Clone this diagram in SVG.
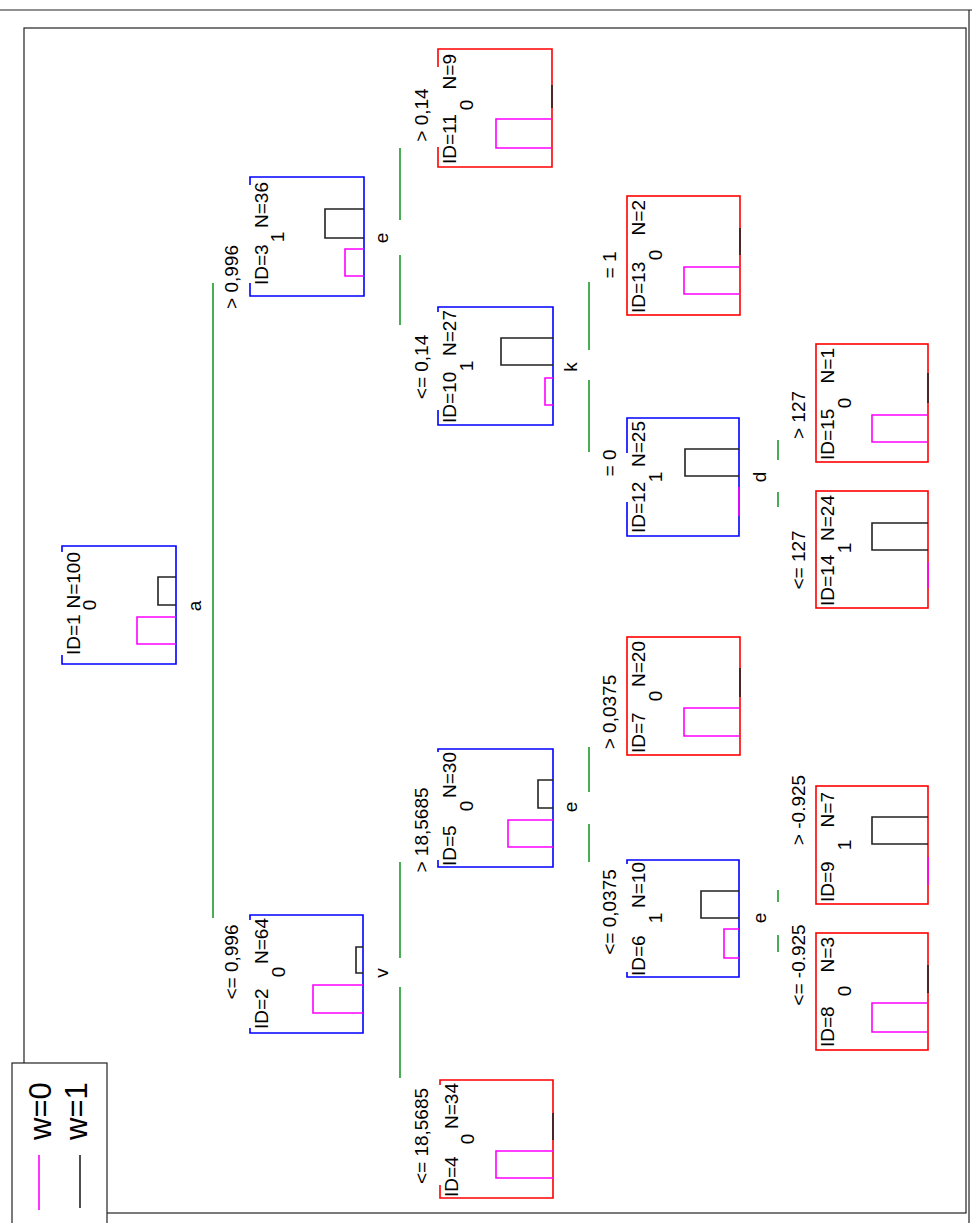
<svg xmlns="http://www.w3.org/2000/svg" width="972" height="1223" viewBox="0 0 972 1223">
<style>
.t{font-family:"Liberation Sans",Arial,sans-serif;font-size:19px;fill:#000}
.lg{font-family:"Liberation Sans",Arial,sans-serif;font-size:31px;fill:#000}
.bi{fill:none;stroke:#0000ff;stroke-width:1.6}
.bl{fill:none;stroke:#ff0000;stroke-width:1.6}
.m{fill:none;stroke:#ff00ff;stroke-width:1.6}
.k{fill:none;stroke:#222;stroke-width:1.6}
.e{fill:none;stroke:#1a9a2a;stroke-width:1.6}
.f{fill:none;stroke:#222;stroke-width:1.2}
</style>
<rect width="972" height="1223" fill="#fff"/>
<g id="frame">
<line class="f" x1="0" y1="10" x2="972" y2="10"/>
<line class="f" x1="969" y1="10" x2="969" y2="1223"/>
<rect class="f" x="24" y="28" width="942" height="1185"/>
</g>
<g id="connectors">
<line class="e" x1="213" y1="283" x2="213" y2="918"/>
<line class="e" x1="400" y1="148" x2="400" y2="220"/>
<line class="e" x1="400" y1="255" x2="400" y2="325"/>
<line class="e" x1="400" y1="862" x2="400" y2="958"/>
<line class="e" x1="400" y1="987" x2="400" y2="1078"/>
<line class="e" x1="589" y1="282" x2="589" y2="350"/>
<line class="e" x1="589" y1="380" x2="589" y2="452"/>
<line class="e" x1="589" y1="747" x2="589" y2="792"/>
<line class="e" x1="589" y1="824" x2="589" y2="862"/>
<line class="e" x1="778" y1="440" x2="778" y2="460"/>
<line class="e" x1="778" y1="492" x2="778" y2="507"/>
<line class="e" x1="778" y1="890" x2="778" y2="902"/>
<line class="e" x1="778" y1="935" x2="778" y2="952"/>
<g class="t" text-anchor="middle">
<text transform="translate(238,277) rotate(-90)">&gt; 0,996</text>
<text transform="translate(238,962) rotate(-90)">&lt;= 0,996</text>
<text transform="translate(428,115) rotate(-90)">&gt; 0,14</text>
<text transform="translate(428,367) rotate(-90)">&lt;= 0,14</text>
<text transform="translate(428,830) rotate(-90)">&gt; 18,5685</text>
<text transform="translate(428,1136) rotate(-90)">&lt;= 18,5685</text>
<text transform="translate(616,712) rotate(-90)">&gt; 0,0375</text>
<text transform="translate(616,912) rotate(-90)">&lt;= 0,0375</text>
<text transform="translate(616,265) rotate(-90)">= 1</text>
<text transform="translate(616,463) rotate(-90)">= 0</text>
<text transform="translate(805,415) rotate(-90)">&gt; 127</text>
<text transform="translate(805,560) rotate(-90)">&lt;= 127</text>
<text transform="translate(805,810) rotate(-90)">&gt; -0.925</text>
<text transform="translate(805,965) rotate(-90)">&lt;= -0.925</text>
</g>
</g>
<g id="node1">
<path class="bi" d="M62,552V546H176V664H62V655"/>
<path class="k" d="M176,577H158V605H176"/>
<path class="m" d="M176,617H137V644H176"/>
<text class="t" transform="translate(80,655) rotate(-90)">ID=1</text>
<text class="t" text-anchor="end" transform="translate(80,552) rotate(-90)">N=100</text>
<text class="t" text-anchor="middle" transform="translate(96,605) rotate(-90)">0</text>
<text class="t" text-anchor="middle" transform="translate(201,606) rotate(-90)">a</text>
</g>
<g id="node2">
<path class="bi" d="M250,920V915H363V1033H250V1028"/>
<path class="k" d="M363,947H356V973H363"/>
<path class="m" d="M363,985H313V1013H363"/>
<text class="t" transform="translate(268,1029) rotate(-90)">ID=2</text>
<text class="t" text-anchor="end" transform="translate(268,918) rotate(-90)">N=64</text>
<text class="t" text-anchor="middle" transform="translate(285,972) rotate(-90)">0</text>
<text class="t" text-anchor="middle" transform="translate(388,973) rotate(-90)">v</text>
</g>
<g id="node3">
<path class="bi" d="M250,185V177H364V296H250V283"/>
<path class="k" d="M364,209H325V238H364"/>
<path class="m" d="M364,249H345V276H364"/>
<text class="t" transform="translate(268,285) rotate(-90)">ID=3</text>
<text class="t" text-anchor="end" transform="translate(268,182) rotate(-90)">N=36</text>
<text class="t" text-anchor="middle" transform="translate(284,237) rotate(-90)">1</text>
<text class="t" text-anchor="middle" transform="translate(388,238) rotate(-90)">e</text>
</g>
<g id="node4">
<path class="bl" d="M440,1085V1080H553V1198H440V1185"/>
<line class="k" x1="553" y1="1113" x2="553" y2="1140"/>
<path class="m" d="M553,1151H496V1178H553"/>
<text class="t" transform="translate(458,1197) rotate(-90)">ID=4</text>
<text class="t" text-anchor="end" transform="translate(458,1083) rotate(-90)">N=34</text>
<text class="t" text-anchor="middle" transform="translate(474,1139) rotate(-90)">0</text>
</g>
<g id="node5">
<path class="bi" d="M438,752V749H553V867H438V860"/>
<path class="k" d="M553,780H538V808H553"/>
<path class="m" d="M553,820H508V847H553"/>
<text class="t" transform="translate(456,866) rotate(-90)">ID=5</text>
<text class="t" text-anchor="end" transform="translate(456,752) rotate(-90)">N=30</text>
<text class="t" text-anchor="middle" transform="translate(473,806) rotate(-90)">0</text>
<text class="t" text-anchor="middle" transform="translate(577,807) rotate(-90)">e</text>
</g>
<g id="node6">
<path class="bi" d="M627,864V860H739V977H627V972"/>
<path class="k" d="M739,891H701V918H739"/>
<path class="m" d="M739,929H724V958H739"/>
<text class="t" transform="translate(645,976) rotate(-90)">ID=6</text>
<text class="t" text-anchor="end" transform="translate(645,862) rotate(-90)">N=10</text>
<text class="t" text-anchor="middle" transform="translate(662,918) rotate(-90)">1</text>
<text class="t" text-anchor="middle" transform="translate(766,918) rotate(-90)">e</text>
</g>
<g id="node7">
<rect class="bl" x="627" y="637" width="113" height="118"/>
<line class="k" x1="740" y1="668" x2="740" y2="697"/>
<path class="m" d="M740,708H684V736H740"/>
<text class="t" transform="translate(645,753) rotate(-90)">ID=7</text>
<text class="t" text-anchor="end" transform="translate(645,641) rotate(-90)">N=20</text>
<text class="t" text-anchor="middle" transform="translate(662,696) rotate(-90)">0</text>
</g>
<g id="node8">
<rect class="bl" x="816" y="933" width="112" height="117"/>
<line class="k" x1="928" y1="965" x2="928" y2="993"/>
<path class="m" d="M928,1003H872V1032H928"/>
<text class="t" transform="translate(834,1047) rotate(-90)">ID=8</text>
<text class="t" text-anchor="end" transform="translate(834,937) rotate(-90)">N=3</text>
<text class="t" text-anchor="middle" transform="translate(851,991) rotate(-90)">0</text>
</g>
<g id="node9">
<rect class="bl" x="816" y="786" width="112" height="118"/>
<path class="k" d="M928,817H872V844H928"/>
<line class="m" x1="928" y1="857" x2="928" y2="885"/>
<text class="t" transform="translate(834,902) rotate(-90)">ID=9</text>
<text class="t" text-anchor="end" transform="translate(834,792) rotate(-90)">N=7</text>
<text class="t" text-anchor="middle" transform="translate(851,845) rotate(-90)">1</text>
</g>
<g id="node10">
<path class="bi" d="M438,312V307H553V425H438V410"/>
<path class="k" d="M553,338H501V365H553"/>
<path class="m" d="M553,378H545V405H553"/>
<text class="t" transform="translate(456,423) rotate(-90)">ID=10</text>
<text class="t" text-anchor="end" transform="translate(456,310) rotate(-90)">N=27</text>
<text class="t" text-anchor="middle" transform="translate(473,366) rotate(-90)">1</text>
<text class="t" text-anchor="middle" transform="translate(577,367) rotate(-90)">k</text>
</g>
<g id="node11">
<path class="bl" d="M438,67V49H552V167H438V147"/>
<line class="k" x1="552" y1="85" x2="552" y2="108"/>
<path class="m" d="M552,119H496V148H552"/>
<text class="t" transform="translate(456,164) rotate(-90)">ID=11</text>
<text class="t" text-anchor="end" transform="translate(456,54) rotate(-90)">N=9</text>
<text class="t" text-anchor="middle" transform="translate(473,105) rotate(-90)">0</text>
</g>
<g id="node12">
<path class="bi" d="M627,453V418H739V536H627V502"/>
<path class="k" d="M739,449H685V476H739"/>
<line class="m" x1="739" y1="487" x2="739" y2="516"/>
<text class="t" transform="translate(645,533) rotate(-90)">ID=12</text>
<text class="t" text-anchor="end" transform="translate(645,421) rotate(-90)">N=25</text>
<text class="t" text-anchor="middle" transform="translate(662,477) rotate(-90)">1</text>
<text class="t" text-anchor="middle" transform="translate(766,477) rotate(-90)">d</text>
</g>
<g id="node13">
<rect class="bl" x="627" y="196" width="113" height="119"/>
<line class="k" x1="740" y1="228" x2="740" y2="255"/>
<path class="m" d="M740,267H684V294H740"/>
<text class="t" transform="translate(645,313) rotate(-90)">ID=13</text>
<text class="t" text-anchor="end" transform="translate(645,200) rotate(-90)">N=2</text>
<text class="t" text-anchor="middle" transform="translate(662,255) rotate(-90)">0</text>
</g>
<g id="node14">
<rect class="bl" x="816" y="491" width="112" height="117"/>
<path class="k" d="M928,523H872V550H928"/>
<line class="m" x1="928" y1="562" x2="928" y2="588"/>
<text class="t" transform="translate(834,606) rotate(-90)">ID=14</text>
<text class="t" text-anchor="end" transform="translate(834,495) rotate(-90)">N=24</text>
<text class="t" text-anchor="middle" transform="translate(851,548) rotate(-90)">1</text>
</g>
<g id="node15">
<rect class="bl" x="816" y="344" width="112" height="118"/>
<line class="k" x1="928" y1="373" x2="928" y2="403"/>
<path class="m" d="M928,415H872V442H928"/>
<text class="t" transform="translate(834,460) rotate(-90)">ID=15</text>
<text class="t" text-anchor="end" transform="translate(834,348) rotate(-90)">N=1</text>
<text class="t" text-anchor="middle" transform="translate(851,403) rotate(-90)">0</text>
</g>
<g id="legend">
<rect x="12" y="1063" width="95" height="165" fill="#fff" stroke="#222" stroke-width="1.2"/>
<text class="lg" transform="translate(51,1140) rotate(-90)">w=0</text>
<text class="lg" transform="translate(87,1140) rotate(-90)">w=1</text>
<line class="m" x1="39" y1="1155" x2="39" y2="1210"/>
<line class="k" x1="80" y1="1155" x2="80" y2="1208"/>
</g>
</svg>
